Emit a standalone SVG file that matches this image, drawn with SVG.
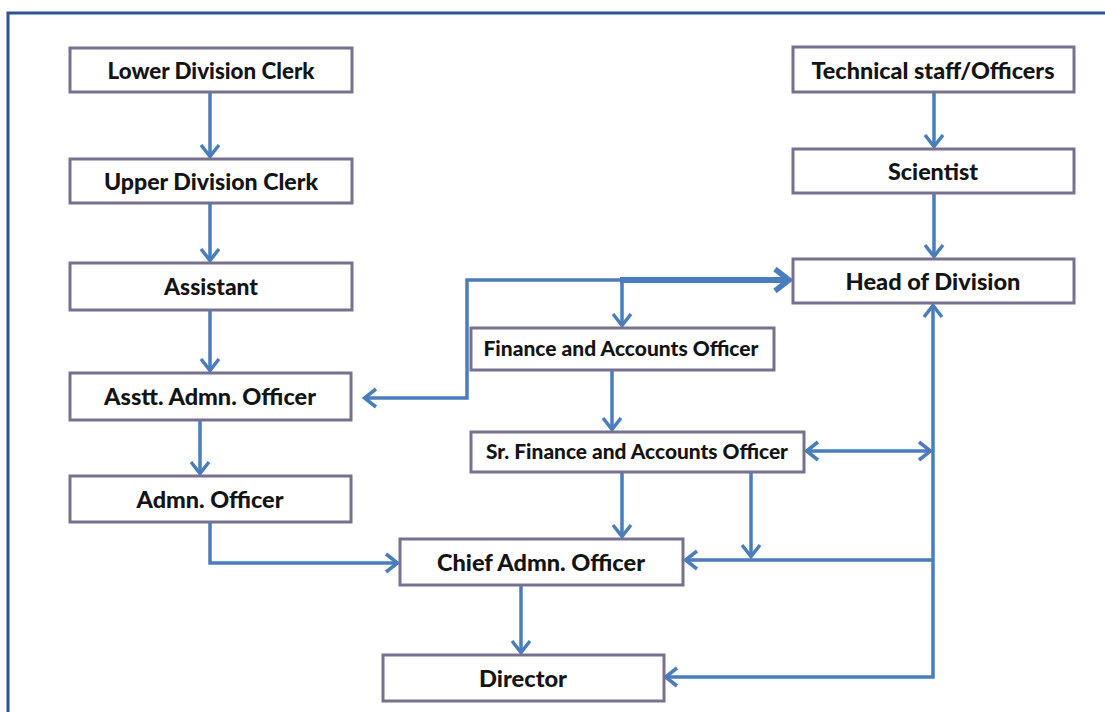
<svg xmlns="http://www.w3.org/2000/svg" width="1105" height="712" viewBox="0 0 1105 712">
  <style>
    .box { fill: #ffffff; stroke: #77718f; stroke-width: 3; }
    .lbl { font-family: Lato, "Open Sans", "Liberation Sans", sans-serif; font-weight: 900; font-size: 23px; fill: #141414; text-anchor: middle; }
    .sm { font-size: 20px; }
    .conn { fill: none; stroke: #4a7dbb; stroke-width: 3.5; }
    .thick { stroke-width: 6; }
  </style>
  <defs>
    <marker id="arr" viewBox="0 0 16 22" refX="14" refY="11" markerWidth="16" markerHeight="22" markerUnits="userSpaceOnUse" orient="auto-start-reverse">
      <path d="M2,2 L13.5,11 L2,20" fill="none" stroke="#4a7dbb" stroke-width="3.5"/>
    </marker>
    <marker id="arrBig" viewBox="0 0 20 26" refX="18" refY="13" markerWidth="20" markerHeight="26" markerUnits="userSpaceOnUse" orient="auto">
      <path d="M3,2 L17,13 L3,24" fill="none" stroke="#4a7dbb" stroke-width="5.5"/>
    </marker>
  </defs>

  <rect width="1105" height="712" fill="#ffffff"/>
  <!-- page frame -->
  <path d="M8,712 V13 H1105" fill="none" stroke="#2c5490" stroke-width="3"/>

  <g id="connectors">
    <path class="conn" d="M210,92 V157" marker-end="url(#arr)"/>
    <path class="conn" d="M210,203 V261" marker-end="url(#arr)"/>
    <path class="conn" d="M210,310 V371" marker-end="url(#arr)"/>
    <path class="conn" d="M200,420 V474" marker-end="url(#arr)"/>
    <path class="conn" d="M210,522 V563 H398" marker-end="url(#arr)"/>
    <path class="conn" d="M934,92 V147" marker-end="url(#arr)"/>
    <path class="conn" d="M934,193 V257" marker-end="url(#arr)"/>
    <path class="conn" d="M364,398 H467 V280 H624" marker-start="url(#arr)"/>
    <path class="conn thick" d="M620,280 H790" marker-end="url(#arrBig)"/>
    <path class="conn" d="M622,280 V326" marker-end="url(#arr)"/>
    <path class="conn" d="M612,370 V430" marker-end="url(#arr)"/>
    <path class="conn" d="M622,472 V537" marker-end="url(#arr)"/>
    <path class="conn" d="M751,472 V557" marker-end="url(#arr)"/>
    <path class="conn" d="M665,677 H933 V305" marker-start="url(#arr)" marker-end="url(#arr)"/>
    <path class="conn" d="M933,560 H685" marker-end="url(#arr)"/>
    <path class="conn" d="M806,451 H931" marker-start="url(#arr)" marker-end="url(#arr)"/>
    <path class="conn" d="M521,585 V653" marker-end="url(#arr)"/>
  </g>

  <g id="lower-division-clerk">
    <rect class="box" x="70" y="48" width="282" height="44"/>
    <text class="lbl" x="211" y="79" textLength="207" lengthAdjust="spacingAndGlyphs">Lower Division Clerk</text>
  </g>
  <g id="upper-division-clerk">
    <rect class="box" x="70" y="159" width="282" height="44"/>
    <text class="lbl" x="211" y="190" textLength="214" lengthAdjust="spacingAndGlyphs">Upper Division Clerk</text>
  </g>
  <g id="assistant">
    <rect class="box" x="70" y="263" width="282" height="47"/>
    <text class="lbl" x="211" y="295" textLength="94" lengthAdjust="spacingAndGlyphs">Assistant</text>
  </g>
  <g id="asstt-admn-officer">
    <rect class="box" x="70" y="373" width="281" height="47"/>
    <text class="lbl" x="210" y="405" textLength="212" lengthAdjust="spacingAndGlyphs">Asstt. Admn. Officer</text>
  </g>
  <g id="admn-officer">
    <rect class="box" x="70" y="476" width="281" height="46"/>
    <text class="lbl" x="210" y="508" textLength="147" lengthAdjust="spacingAndGlyphs">Admn. Officer</text>
  </g>
  <g id="chief-admn-officer">
    <rect class="box" x="400" y="539" width="283" height="46"/>
    <text class="lbl" x="541" y="571" textLength="208" lengthAdjust="spacingAndGlyphs">Chief Admn. Officer</text>
  </g>
  <g id="director">
    <rect class="box" x="383" y="655" width="281" height="46"/>
    <text class="lbl" x="523" y="687" textLength="88" lengthAdjust="spacingAndGlyphs">Director</text>
  </g>
  <g id="finance-accounts-officer">
    <rect class="box" x="471" y="328" width="303" height="42"/>
    <text class="lbl sm" x="621" y="356" textLength="275" lengthAdjust="spacingAndGlyphs">Finance and Accounts Officer</text>
  </g>
  <g id="sr-finance-accounts-officer">
    <rect class="box" x="471" y="432" width="333" height="40"/>
    <text class="lbl sm" x="637" y="459" textLength="302" lengthAdjust="spacingAndGlyphs">Sr. Finance and Accounts Officer</text>
  </g>
  <g id="technical-staff">
    <rect class="box" x="793" y="47" width="281" height="45"/>
    <text class="lbl" x="933" y="79" textLength="243" lengthAdjust="spacingAndGlyphs">Technical staff/Officers</text>
  </g>
  <g id="scientist">
    <rect class="box" x="793" y="149" width="281" height="44"/>
    <text class="lbl" x="933" y="180" textLength="90" lengthAdjust="spacingAndGlyphs">Scientist</text>
  </g>
  <g id="head-of-division">
    <rect class="box" x="793" y="259" width="281" height="44"/>
    <text class="lbl" x="933" y="290" textLength="175" lengthAdjust="spacingAndGlyphs">Head of Division</text>
  </g>
</svg>
